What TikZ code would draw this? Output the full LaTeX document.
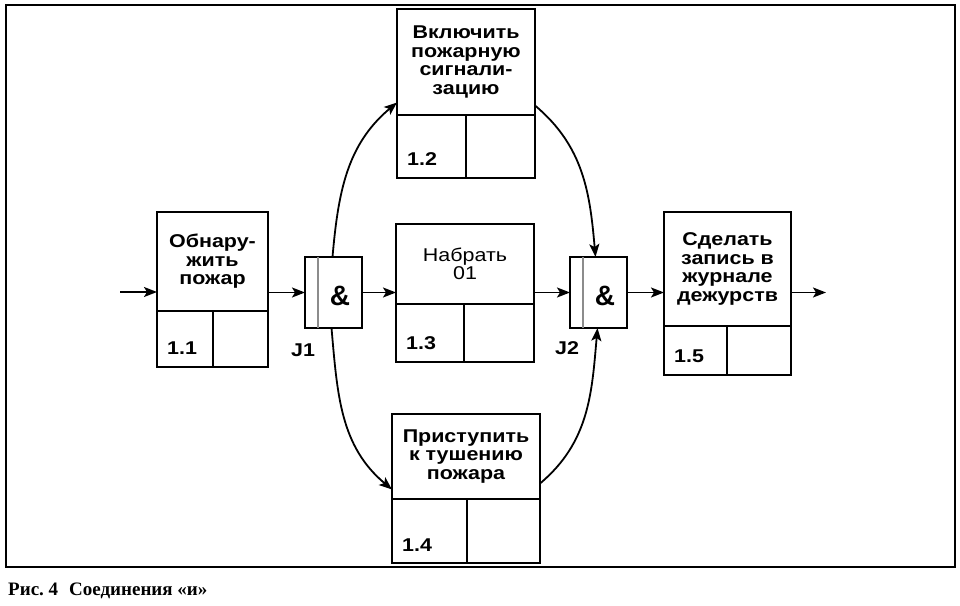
\documentclass[tikz,border=0pt]{standalone}
\usepackage{fontspec}
\setmainfont{Liberation Sans}
\newfontfamily\boxfont[FakeStretch=1.16]{Liberation Sans}
\newfontfamily\capfont{Liberation Serif}
\usetikzlibrary{arrows.meta}
% name, left, bottom, right, top, divider y, divider x, number
\newcommand\ibox[8]{%
  \node[boxshape, minimum width={(#4)-(#2)}, minimum height={(#5)-(#3)}] (#1) at ({((#2)+(#4))/2},{((#3)+(#5))/2}) {};
  \draw[divline] (#2,#6) -- (#4,#6);
  \draw[divline] (#7,#3) -- (#7,#6);
  \coordinate (#1c) at ({((#2)+(#4))/2},{((#5)+(#6))/2});
  \node[numtext, anchor=base west] (#1n) at ({(#2)+10},{(#3)+12}) {#8};
}
\begin{document}
\begin{tikzpicture}[x=1pt,y=1pt,
  boxshape/.style={draw, line width=2.2pt, inner sep=0pt, outer sep=0pt, fill=white},
  divline/.style={line width=2.2pt},
  boxtext/.style={font=\fontsize{18.5}{18.5}\boxfont\bfseries\selectfont, align=center, inner sep=0pt},
  regtext/.style={font=\fontsize{18.5}{18.5}\boxfont\selectfont, align=center, inner sep=0pt},
  numtext/.style={font=\fontsize{18.5}{18.5}\boxfont\bfseries\selectfont, inner sep=0pt},
  amptext/.style={font=\fontsize{28}{28}\selectfont\bfseries, inner sep=0pt},
  jline/.style={line width=2.8pt, black!45},
  arr/.style={line width=1.8pt, -{Stealth[length=13pt,width=10pt,inset=3pt]}},
  frameline/.style={line width=1.5pt}]
\useasboundingbox (0,0) rectangle (960,605);
\fill[white] (0,0) rectangle (960,605);
\draw[frameline] (6,600) rectangle (955,38);

\ibox{b11}{157}{238}{268}{393}{294}{213}{1.1}
\ibox{b12}{397}{427}{535}{596}{490}{466}{1.2}
\ibox{b13}{396}{243}{534}{381}{301}{464}{1.3}
\ibox{b14}{392}{42}{540}{191}{106}{467}{1.4}
\ibox{b15}{664}{230}{791}{393}{279}{727}{1.5}

\node[boxtext] (b11t) at (b11c) {Обнару-\\жить\\пожар};
\node[boxtext] (b12t) at (b12c) {Включить\\пожарную\\сигнали-\\зацию};
\node[regtext] (b13t) at (b13c) {Набрать\\01};
\node[boxtext] (b14t) at (b14c) {Приступить\\к тушению\\пожара};
\node[boxtext] (b15t) at (b15c) {Сделать\\запись в\\журнале\\дежурств};

\node[boxshape, minimum width=57, minimum height=71] (j1) at (333.5,312.5) {};
\draw[jline] ([xshift=13]j1.south west) -- ([xshift=13]j1.north west);
\node[amptext] (j1a) at (340,309) {\&};
\node[numtext] (j1l) at (303,255) {J1};

\node[boxshape, minimum width=57, minimum height=71] (j2) at (598.5,312.5) {};
\draw[jline] ([xshift=13]j2.south west) -- ([xshift=13]j2.north west);
\node[amptext] (j2a) at (605,309) {\&};
\node[numtext] (j2l) at (567,257) {J2};

\coordinate (in) at (120,313);
\coordinate (out) at (826,312.5);

\draw[arr] (in) -- (in -| b11.west);
\draw[arr] (b11.east |- j1) -- (j1.west);
\draw[arr] (j1.east) -- (j1.east -| b13.west);
\draw[arr] (b13.east |- j2) -- (j2.west);
\draw[arr] (j2.east) -- (j2.east -| b15.west);
\draw[arr] (b15.east |- out) -- (out);

\draw[arr] ([xshift=-1]j1.north) to[out=85, in=220] ([yshift=-9]b12.west);
\draw[arr] ([yshift=-12]b12.east) to[out=-40, in=95] ([xshift=-3]j2.north);
\draw[arr] ([xshift=-2]j1.south) to[out=-85, in=140] ([yshift=-1]b14.west);
\draw[arr] ([yshift=5]b14.east) to[out=40, in=265] ([xshift=-1]j2.south);

\node[anchor=base west, inner sep=0pt, font=\fontsize{19}{21}\capfont\bfseries\selectfont] (cap) at (8,10) {Рис.~4\hspace{11pt}Соединения «и»};
\end{tikzpicture}
\end{document}
